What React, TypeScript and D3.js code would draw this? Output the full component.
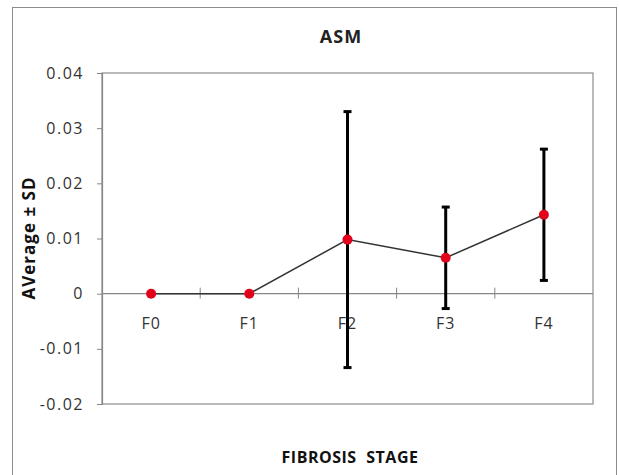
import React, { useEffect, useRef } from 'react';
import * as d3 from 'd3';

const stages = ['F0', 'F1', 'F2', 'F3', 'F4'];
const averages = [0, 0, 0.0098, 0.0065, 0.0143];
const sds = [0, 0, 0.0232, 0.0092, 0.0119];
const yTicks = [0.04, 0.03, 0.02, 0.01, 0, -0.01, -0.02];

const FONT = '"Open Sans", "DejaVu Sans", sans-serif';

const App = () => {
  const svgRef = useRef<SVGSVGElement>(null);

  useEffect(() => {
    const svg = d3.select(svgRef.current);
    svg.selectAll('*').remove();

    const left = 102, right = 593, top = 73, bottom = 404;

    // outer frame
    svg.append('rect')
      .attr('x', 12.5).attr('y', 7.5)
      .attr('width', 604).attr('height', 480)
      .attr('fill', 'white')
      .attr('stroke', '#8c8c8c')
      .attr('stroke-width', 1);

    const x = d3.scaleBand().domain(stages).range([left, right]);
    const y = d3.scaleLinear().domain([-0.02, 0.04]).range([bottom, top]);

    // plot area border
    svg.append('rect')
      .attr('x', left).attr('y', top)
      .attr('width', right - left).attr('height', bottom - top)
      .attr('fill', 'none')
      .attr('stroke', '#8c8c8c')
      .attr('stroke-width', 1.2);

    // y axis (plain hyphen for negatives, like Excel)
    const fmt = (d: number) => (d === 0 ? '0' : d.toFixed(2));
    const yAxis = svg.append('g')
      .attr('transform', `translate(${left},0)`)
      .call(d3.axisLeft(y).tickValues(yTicks).tickSize(5).tickPadding(13)
        .tickFormat(d => fmt(d as number)));
    yAxis.select('.domain').attr('stroke', '#868686').attr('stroke-width', 1.2);
    yAxis.selectAll('.tick line').attr('stroke', '#868686');
    yAxis.selectAll('text')
      .style('font-family', FONT)
      .style('font-size', '16px')
      .style('letter-spacing', '1.5px')
      .attr('fill', '#333');

    // x axis on zero line
    const y0 = y(0);
    svg.append('line')
      .attr('x1', left).attr('x2', right)
      .attr('y1', y0).attr('y2', y0)
      .attr('stroke', '#868686').attr('stroke-width', 1.2);
    const bounds = stages.slice(1).map(s => x(s) as number);
    svg.selectAll('.xtick')
      .data(bounds)
      .enter()
      .append('line')
      .attr('x1', d => d).attr('x2', d => d)
      .attr('y1', y0 - 6).attr('y2', y0 + 5)
      .attr('stroke', '#868686').attr('stroke-width', 1);
    svg.selectAll('.xlabel')
      .data(stages)
      .enter()
      .append('text')
      .attr('x', d => (x(d) as number) + x.bandwidth() / 2)
      .attr('y', y0 + 35)
      .attr('text-anchor', 'middle')
      .style('font-family', FONT)
      .style('font-size', '16px')
      .style('letter-spacing', '1px')
      .attr('fill', '#333')
      .text(d => d);

    const cx = (i: number) => (x(stages[i]) as number) + x.bandwidth() / 2;

    // connecting line
    const line = d3.line<number>()
      .x((_, i) => cx(i))
      .y(d => y(d));
    svg.append('path')
      .datum(averages)
      .attr('d', line)
      .attr('fill', 'none')
      .attr('stroke', '#333')
      .attr('stroke-width', 1.5);

    // error bars
    const bars = svg.append('g');
    averages.forEach((v, i) => {
      if (!sds[i]) return;
      const hi = y(v + sds[i]), lo = y(v - sds[i]);
      bars.append('line')
        .attr('x1', cx(i)).attr('x2', cx(i))
        .attr('y1', hi).attr('y2', lo)
        .attr('stroke', '#000').attr('stroke-width', 3);
      [hi, lo].forEach(yy => {
        bars.append('line')
          .attr('x1', cx(i) - 4).attr('x2', cx(i) + 4)
          .attr('y1', yy).attr('y2', yy)
          .attr('stroke', '#000').attr('stroke-width', 3);
      });
    });

    // markers
    svg.selectAll('.pt')
      .data(averages)
      .enter()
      .append('circle')
      .attr('cx', (_, i) => cx(i))
      .attr('cy', d => y(d))
      .attr('r', 5)
      .attr('fill', '#e3001b');

    // titles
    svg.append('text')
      .attr('x', 341).attr('y', 43)
      .attr('text-anchor', 'middle')
      .style('font-family', FONT)
      .style('font-size', '18px')
      .style('font-weight', 'bold')
      .style('letter-spacing', '1px')
      .attr('fill', '#222')
      .text('ASM');

    svg.append('text')
      .attr('transform', 'translate(35,238) rotate(-90)')
      .attr('text-anchor', 'middle')
      .style('font-family', FONT)
      .style('font-size', '17px')
      .style('font-weight', 'bold')
      .style('letter-spacing', '1px')
      .attr('fill', '#111')
      .text('AVerage ± SD');

    svg.append('text')
      .attr('x', 350).attr('y', 463)
      .attr('text-anchor', 'middle')
      .style('font-family', FONT)
      .style('font-size', '16px')
      .style('font-weight', 'bold')
      .style('letter-spacing', '0.5px')
      .style('word-spacing', '5px')
      .attr('fill', '#111')
      .text('FIBROSIS STAGE');
  }, []);

  return (
    <svg
      ref={svgRef}
      width={619}
      height={475}
      style={{ position: 'absolute', left: 0, top: 0, background: 'white' }}
    />
  );
};

export default App;
